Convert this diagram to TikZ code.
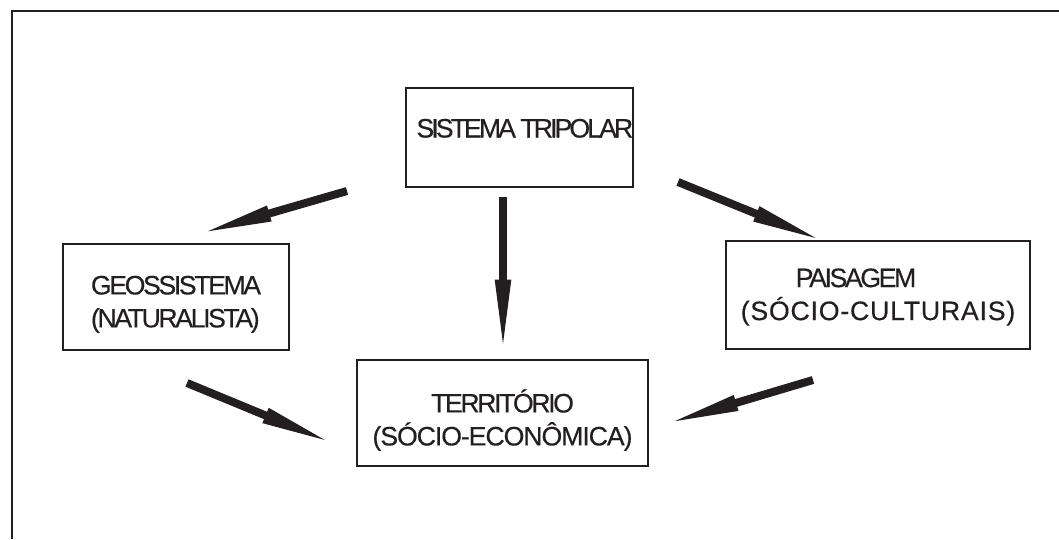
\documentclass[tikz,border=0pt]{standalone}
\usepackage{fontspec}
\setmainfont{Liberation Sans}
\newfontfamily\boxfont{Liberation Sans}[FakeBold=0.35]
\usetikzlibrary{arrows.meta}
\definecolor{ink}{RGB}{35,31,32}
\newcommand{\pix}{0.75pt}
\newcommand{\track}[1]{\addfontfeatures{LetterSpace=#1}}

\begin{document}
\begin{tikzpicture}[x=0.75pt, y=-0.75pt,
    box/.style={draw=ink, line width=1.2pt, inner sep=0pt, text=ink,
        font=\boxfont\fontsize{20}{24.75}\selectfont\track{-9}},
    flow/.style={draw=ink, line width=6pt, -{Triangle[length=58pt, width=10.5pt]}}]
\useasboundingbox (0,0) rectangle (1059,539);

% frame, open at the right and bottom
\draw[ink, line width=1.5pt] (11.5,539) |- (1059,10.5);

% boxes
\node[box, minimum width=225*\pix, text height=37.1pt, text depth=37.1pt]
    (sis) at (519.5,137.5) {\kern8pt\track{-11}SISTEMA TRIPOLAR};
\node[box, minimum width=226*\pix, minimum height=106*\pix, align=left]
    (geo) at (176,297) {\rule{0pt}{25pt}GEOSSISTEMA\\(NATURALISTA)};
\node[box, minimum width=291*\pix, minimum height=106*\pix, align=center]
    (ter) at (502.5,413) {\rule{0pt}{28pt}TERRITÓRIO\\\track{-4}(SÓCIO-ECONÔMICA)};
\node[box, minimum width=304*\pix, minimum height=108*\pix, align=center]
    (pai) at (878,295) {\rule{0pt}{17pt}PAISAGEM\kern33pt\\\track{3}(SÓCIO-CULTURAIS)};

% arrows between the boxes
\coordinate (sisgeo) at (347,191);  \coordinate (geotop) at (195,235);
\coordinate (sister) at (503,197);  \coordinate (tertop) at (503,357);
\coordinate (sispai) at (678,182);  \coordinate (paitop) at (828,243);
\coordinate (geoter) at (187,383);  \coordinate (terleft) at (337,445);
\coordinate (paiter) at (813,380);  \coordinate (terright) at (662,425);
\draw[flow] (sisgeo) -- (geotop);
\draw[flow] (sister) -- (tertop);
\draw[flow] (sispai) -- (paitop);
\draw[flow] (geoter) -- (terleft);
\draw[flow] (paiter) -- (terright);
\end{tikzpicture}
\end{document}
